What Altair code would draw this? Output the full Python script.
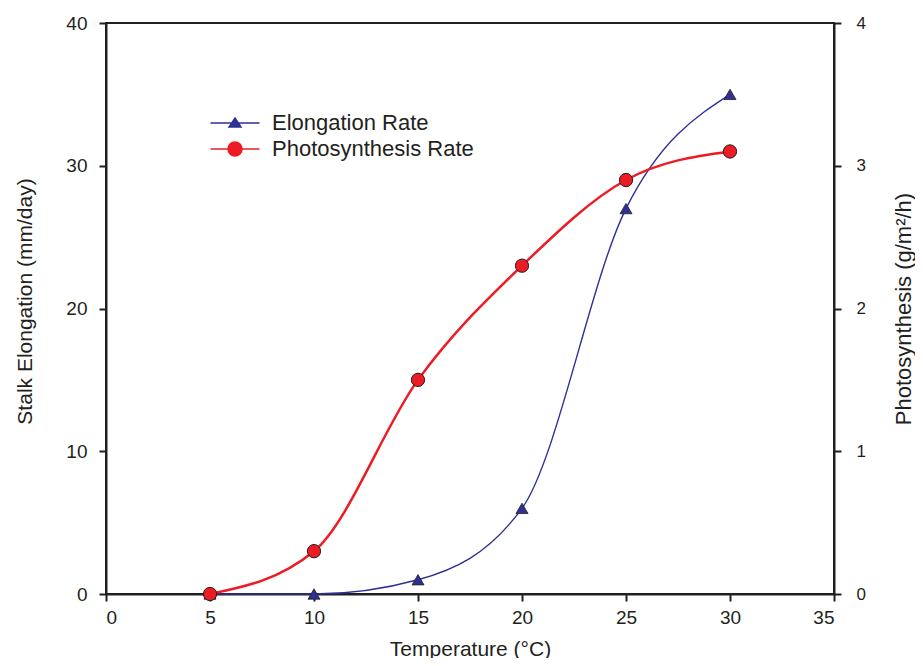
import altair as alt
import pandas as pd

temps = [5, 10, 15, 20, 25, 30]
elongation = [0, 0, 1, 6, 27, 35]
photosynthesis = [0, 0.3, 1.5, 2.3, 2.9, 3.1]
series_names = ["Elongation Rate", "Photosynthesis Rate"]
x_ticks = [0, 5, 10, 15, 20, 25, 30, 35]
left_ticks = [0, 10, 20, 30, 40]
right_ticks = [0, 1, 2, 3, 4]

NAVY = "#2e3192"
RED = "#ed1c24"
INK = "#231f20"
FONT = "Liberation Sans"

df_e = pd.DataFrame({"temp": temps, "value": elongation, "series": series_names[0]})
df_p = pd.DataFrame({"temp": temps, "value": photosynthesis, "series": series_names[1]})

x_enc = alt.X("temp:Q", scale=alt.Scale(domain=[0, 35], nice=False, zero=False),
              axis=alt.Axis(values=x_ticks, title="Temperature (°C)", grid=False,
                            labelFontSize=19, titleFontSize=21, labelPadding=7,
                            titleY=55, titleBaseline="middle"))

# legend symbols: a line segment with the series marker on it (unit = 10 px)
TRI_SYM = "M-2.45,0L2.45,0M0,-0.5L0.6,0.4L-0.6,0.4Z"
CIRC_SYM = "M-2.45,0L2.45,0M0.7,0A0.7,0.7,0,1,1,-0.7,0A0.7,0.7,0,1,1,0.7,0Z"

legend = alt.Legend(
    orient="none", legendX=118, legendY=89, title=None,
    symbolSize=400, symbolStrokeWidth=1.5, labelFontSize=22, labelFont=FONT, labelColor=INK,
    labelOffset=26, rowPadding=4, labelLimit=400,
)
fill_scale = alt.Scale(domain=series_names, range=[NAVY, RED])
shape_scale = alt.Scale(domain=series_names, range=[TRI_SYM, CIRC_SYM])

y_left = alt.Y("value:Q", scale=alt.Scale(domain=[0, 40], nice=False),
               axis=alt.Axis(values=left_ticks, title="Stalk Elongation (mm/day)", grid=False,
                             labelFontSize=19, titleFontSize=21, labelPadding=12,
                             titleX=-81, titleY=278, titleBaseline="middle", titleAngle=270))
y_right = alt.Y("value:Q", scale=alt.Scale(domain=[0, 4], nice=False),
                axis=alt.Axis(values=right_ticks, orient="right", title="Photosynthesis (g/m²/h)",
                              grid=False, labelFontSize=17, titleFontSize=22, labelPadding=15,
                              titleX=69, titleBaseline="middle", titleAngle=270))

line_e = alt.Chart(df_e).mark_line(color=NAVY, strokeWidth=1.4, interpolate="monotone").encode(
    x=x_enc, y=y_left)
pts_e = alt.Chart(df_e).mark_point(filled=True, shape="triangle-up", size=144, fill=NAVY,
                                   stroke=INK, strokeWidth=0.8, opacity=1).encode(
    x=x_enc, y=y_left)

# legend-only layer (no rows drawn)
legend_layer = alt.Chart(pd.concat([df_e, df_p])).transform_filter("false").mark_point(
    filled=True, opacity=1).encode(
    x=x_enc, y=y_left,
    fill=alt.Fill("series:N", scale=fill_scale, legend=legend),
    stroke=alt.Stroke("series:N", scale=fill_scale, legend=legend),
    shape=alt.Shape("series:N", scale=shape_scale, legend=legend))

line_p = alt.Chart(df_p).mark_line(color=RED, strokeWidth=2.5, interpolate="monotone").encode(
    x=x_enc, y=y_right)
pts_p = alt.Chart(df_p).mark_point(filled=True, shape="circle", size=177, fill=RED,
                                   stroke=INK, strokeWidth=1, opacity=1).encode(
    x=x_enc, y=y_right)

left = alt.layer(line_e, pts_e, legend_layer)
right = alt.layer(line_p, pts_p)

chart = alt.layer(left, right).resolve_scale(y="independent").properties(
    width=728, height=571,
    autosize=alt.AutoSizeParams(type="none"),
    padding={"left": 98, "top": 15, "right": 81, "bottom": 64},
).configure_view(stroke=INK, strokeWidth=2).configure_axis(
    domainColor=INK, domainWidth=2, tickColor=INK, tickWidth=2, tickSize=7,
    labelColor=INK, titleColor=INK, labelFont=FONT, titleFont=FONT,
    titleFontWeight="normal",
)

chart.save("out.html", embed_options={"renderer": "svg", "actions": False})
